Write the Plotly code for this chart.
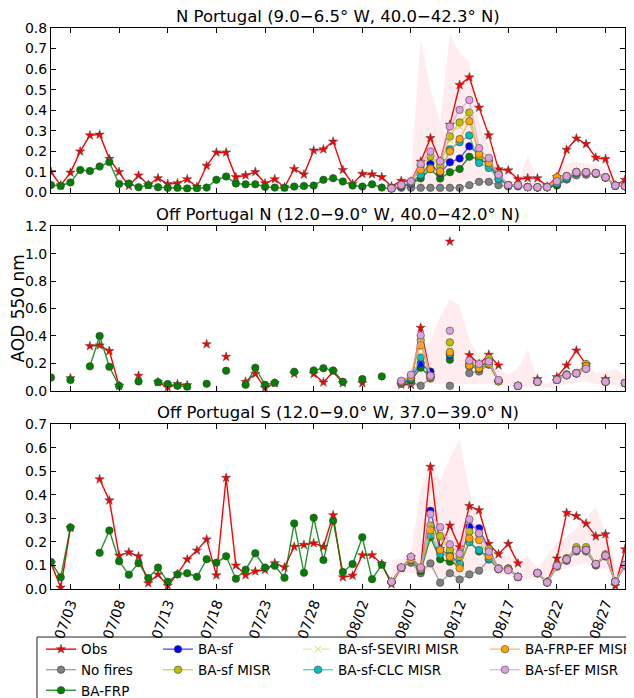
import pandas as pd
import plotly.graph_objects as go
from plotly.subplots import make_subplots

# daily axis, 07/01 .. 08/29
dates = pd.date_range("2010-07-01", "2010-08-29", freq="D")
fire_dates = dates[35:]  # fire-emission runs start 08/05

TITLES = [
    "N Portugal (9.0\u22126.5\u00b0 W, 40.0\u221242.3\u00b0 N)",
    "Off Portugal N (12.0\u22129.0\u00b0 W, 40.0\u221242.0\u00b0 N)",
    "Off Portugal S (12.0\u22129.0\u00b0 W, 37.0\u221239.0\u00b0 N)",
]

# ---------------- N Portugal ----------------
n_obs = [0.10, 0.035, 0.097, 0.20, 0.278, 0.282, 0.164, 0.10, 0.032, 0.083,
         0.037, 0.07, 0.042, 0.045, 0.065, 0.028, 0.13, 0.195, 0.195, 0.075,
         0.084, 0.10, 0.045, 0.065, 0.026, 0.115, 0.088, 0.205, 0.21, 0.248,
         0.11, 0.042, 0.091, 0.089, 0.075, 0.03, 0.057, 0.053, 0.15, 0.265,
         0.152, 0.33, 0.523, 0.56, 0.413, 0.278, 0.113, 0.108, 0.065, 0.07,
         0.07, 0.03, 0.075, 0.208, 0.263, 0.236, 0.17, 0.163, 0.035, 0.062]
n_frp = [0.037, 0.032, 0.049, 0.11, 0.105, 0.127, 0.148, 0.042, 0.044, 0.026,
         0.036, 0.026, 0.023, 0.023, 0.02, 0.021, 0.024, 0.062, 0.078, 0.044,
         0.04, 0.04, 0.028, 0.024, 0.023, 0.029, 0.032, 0.034, 0.062, 0.07,
         0.054, 0.034, 0.029, 0.04, 0.024, 0.019, 0.03, 0.042, 0.069, 0.115,
         0.068, 0.099, 0.115, 0.174, 0.163, 0.139, 0.066, 0.036, 0.036, 0.027,
         0.025, 0.026, 0.034, 0.068, 0.095, 0.097, 0.093, 0.074, 0.034, 0.031]
n_nofire = [0.023, 0.023, 0.023, 0.023, 0.023, 0.023, 0.023, 0.023, 0.036, 0.052, 0.052, 0.036, 0.03,
            0.03, 0.026, 0.025, 0.026, 0.039, 0.063, 0.084, 0.087, 0.09, 0.072, 0.033, 0.03]
n_sf = [0.02, 0.03, 0.045, 0.087, 0.14, 0.095, 0.147, 0.166, 0.225, 0.184, 0.152, 0.082, 0.036,
        0.036, 0.027, 0.025, 0.026, 0.05, 0.078, 0.1, 0.099, 0.095, 0.074, 0.034, 0.031]
n_sf_misr = [0.02, 0.035, 0.05, 0.13, 0.176, 0.131, 0.273, 0.341, 0.389, 0.176, 0.15, 0.092, 0.036,
             0.036, 0.027, 0.025, 0.026, 0.06, 0.08, 0.1, 0.099, 0.095, 0.074, 0.034, 0.031]
n_seviri = [0.02, 0.034, 0.05, 0.125, 0.165, 0.125, 0.255, 0.32, 0.37, 0.17, 0.145, 0.09, 0.036,
            0.036, 0.027, 0.025, 0.026, 0.058, 0.079, 0.1, 0.099, 0.095, 0.074, 0.034, 0.031]
n_clc = [0.02, 0.032, 0.047, 0.087, 0.12, 0.10, 0.21, 0.245, 0.278, 0.144, 0.12, 0.066, 0.034,
         0.034, 0.027, 0.025, 0.026, 0.045, 0.07, 0.095, 0.097, 0.093, 0.074, 0.034, 0.031]
n_frp_ef = [0.02, 0.035, 0.052, 0.11, 0.115, 0.103, 0.2, 0.26, 0.347, 0.187, 0.144, 0.092, 0.036,
            0.036, 0.027, 0.025, 0.026, 0.074, 0.08, 0.1, 0.099, 0.095, 0.074, 0.034, 0.031]
n_sf_ef = [0.02, 0.037, 0.055, 0.139, 0.2, 0.152, 0.321, 0.402, 0.45, 0.216, 0.168, 0.087, 0.036,
           0.036, 0.026, 0.026, 0.026, 0.055, 0.079, 0.099, 0.099, 0.095, 0.074, 0.034, 0.031]
n_band_hi = [0.03, 0.06, 0.08, 0.75, 0.5, 0.35, 0.77, 0.68, 0.63, 0.35, 0.22, 0.13, 0.06,
             0.05, 0.18, 0.06, 0.04, 0.11, 0.14, 0.15, 0.14, 0.14, 0.11, 0.05, 0.05]
n_band_lo = [0.015, 0.02, 0.025, 0.03, 0.04, 0.03, 0.04, 0.05, 0.06, 0.05, 0.04, 0.03, 0.02,
             0.02, 0.02, 0.02, 0.02, 0.03, 0.05, 0.06, 0.07, 0.07, 0.05, 0.02, 0.02]

# ---------------- Off Portugal N ----------------
o_obs = [None, None, 0.092, None, 0.326, 0.331, 0.29, 0.036, None, 0.11,
         None, 0.063, 0.024, 0.049, 0.041, None, 0.34, None, 0.248, None,
         0.066, 0.124, 0.02, 0.055, None, 0.124, None, 0.124, 0.061, 0.14,
         0.056, None, 0.056, None, None, None, 0.045, 0.044, 0.46, 0.11,
         None, 1.088, None, 0.26, 0.195, 0.263, 0.185, None, None, None,
         0.085, None, 0.10, 0.185, 0.294, 0.19, None, 0.085, None, None]
o_frp = [0.097, None, 0.078, None, 0.178, 0.40, 0.175, 0.036, None, 0.068,
         None, 0.063, 0.049, 0.036, 0.029, None, 0.051, None, 0.146, None,
         0.044, 0.168, 0.044, 0.058, None, 0.139, None, 0.148, 0.165, 0.148,
         0.066, None, 0.085, None, 0.105, None, 0.06, 0.075, 0.168, 0.10,
         None, 0.226, None, 0.18, 0.16, 0.2, 0.07, None, 0.036, None,
         0.066, None, 0.08, 0.114, 0.127, 0.18, None, 0.066, None, 0.056]
o_nofire = [None, 0.051, 0.061, 0.037, 0.09, None, 0.036, None, 0.129, 0.141, 0.19, 0.075, None,
            0.036, None, 0.066, None, 0.08, 0.114, 0.127, 0.16, None, 0.066, None, 0.056]
o_sf = [None, 0.065, 0.09, 0.2, 0.14, None, 0.26, None, 0.19, 0.17, 0.22, 0.07, None,
        0.036, None, 0.066, None, 0.08, 0.114, 0.127, 0.19, None, 0.066, None, 0.056]
o_sf_misr = [None, 0.068, 0.11, 0.37, 0.1, None, 0.353, None, 0.2, 0.18, 0.238, 0.07, None,
             0.036, None, 0.066, None, 0.08, 0.12, 0.13, 0.195, None, 0.066, None, 0.056]
o_seviri = [None, 0.066, 0.105, 0.36, 0.1, None, 0.33, None, 0.195, 0.175, 0.23, 0.07, None,
            0.036, None, 0.066, None, 0.08, 0.118, 0.128, 0.19, None, 0.066, None, 0.056]
o_clc = [None, 0.062, 0.09, 0.243, 0.1, None, 0.27, None, 0.18, 0.165, 0.2, 0.07, None,
         0.036, None, 0.066, None, 0.08, 0.114, 0.127, 0.18, None, 0.066, None, 0.056]
o_frp_ef = [None, 0.066, 0.1, 0.331, 0.1, None, 0.282, None, 0.185, 0.165, 0.197, 0.068, None,
            0.036, None, 0.066, None, 0.08, 0.114, 0.127, 0.18, None, 0.066, None, 0.056]
o_sf_ef = [None, 0.073, 0.117, 0.404, 0.11, None, 0.438, None, 0.221, 0.195, 0.214, 0.078, None,
           0.036, None, 0.066, None, 0.08, 0.114, 0.127, 0.161, None, 0.066, None, 0.056]
o_band_hi = [0.03, 0.06, 0.12, 0.25, 0.37, 0.54, 0.67, 0.62, 0.37, 0.25, 0.2, 0.15, 0.12,
             0.16, 0.30, 0.08, 0.05, 0.10, 0.14, 0.16, 0.2, 0.13, 0.14, 0.16, 0.11]
o_band_lo = [0.01, 0.02, 0.03, 0.04, 0.05, 0.05, 0.05, 0.05, 0.05, 0.05, 0.05, 0.04, 0.03,
             0.02, 0.03, 0.03, 0.02, 0.03, 0.05, 0.06, 0.07, 0.05, 0.04, 0.04, 0.03]

# ---------------- Off Portugal S ----------------
s_obs = [0.109, 0.006, 0.26, None, None, 0.467, 0.377, 0.142, 0.156, 0.139,
         0.025, 0.062, 0.014, 0.064, 0.126, 0.164, 0.211, 0.058, 0.473, 0.1,
         0.059, 0.075, 0.081, 0.11, 0.092, 0.18, 0.188, 0.195, 0.18, 0.314,
         0.05, 0.057, 0.144, 0.144, 0.106, 0.021, 0.09, 0.135, 0.09, 0.52,
         0.17, 0.27, 0.178, 0.353, 0.335, 0.192, 0.148, 0.192, 0.109, None,
         None, 0.03, 0.13, 0.324, 0.31, 0.278, 0.224, 0.233, 0.013, 0.169]
s_frp = [0.115, 0.05, 0.262, None, None, 0.154, 0.249, 0.118, 0.061, 0.11,
         0.047, 0.091, 0.031, 0.062, 0.067, 0.052, 0.127, 0.112, 0.139, 0.044,
         0.082, 0.152, 0.091, 0.099, 0.048, 0.279, 0.069, 0.303, 0.123, 0.29,
         0.072, 0.106, 0.22, 0.042, 0.103, 0.03, 0.09, 0.125, 0.075, 0.22,
         0.127, 0.116, 0.1, 0.2, 0.16, 0.14, 0.085, 0.085, 0.052, None,
         0.068, 0.028, 0.099, 0.126, 0.166, 0.166, 0.106, 0.142, 0.031, 0.102]
s_nofire = [0.03, 0.09, 0.112, 0.067, 0.109, 0.027, 0.067, 0.04, 0.062, 0.078, 0.125, 0.087, 0.085,
            0.05, None, 0.066, 0.028, 0.095, 0.12, 0.16, 0.16, 0.1, 0.138, 0.03, 0.1]
s_sf = [0.03, 0.09, 0.125, 0.085, 0.333, 0.166, 0.145, 0.109, 0.265, 0.258, 0.17, 0.086, 0.085,
        0.052, None, 0.068, 0.028, 0.1, 0.125, 0.166, 0.166, 0.106, 0.142, 0.031, 0.102]
s_sf_misr = [0.03, 0.09, 0.125, 0.085, 0.27, 0.225, 0.166, 0.137, 0.244, 0.234, 0.17, 0.088, 0.088,
             0.052, None, 0.068, 0.028, 0.1, 0.132, 0.178, 0.178, 0.106, 0.148, 0.031, 0.102]
s_seviri = [0.03, 0.09, 0.124, 0.085, 0.26, 0.21, 0.16, 0.13, 0.235, 0.225, 0.165, 0.087, 0.087,
            0.052, None, 0.068, 0.028, 0.1, 0.13, 0.174, 0.174, 0.106, 0.146, 0.031, 0.102]
s_clc = [0.03, 0.09, 0.123, 0.085, 0.23, 0.15, 0.14, 0.105, 0.2, 0.166, 0.13, 0.085, 0.085,
         0.052, None, 0.068, 0.028, 0.099, 0.126, 0.166, 0.166, 0.106, 0.142, 0.031, 0.102]
s_frp_ef = [0.03, 0.09, 0.125, 0.085, 0.25, 0.166, 0.137, 0.088, 0.215, 0.208, 0.14, 0.085, 0.085,
            0.052, None, 0.068, 0.028, 0.1, 0.126, 0.166, 0.166, 0.106, 0.142, 0.031, 0.102]
s_sf_ef = [0.031, 0.092, 0.137, 0.092, 0.319, 0.263, 0.19, 0.15, 0.296, 0.237, 0.159, 0.086, 0.08,
           0.052, None, 0.068, 0.028, 0.099, 0.126, 0.166, 0.166, 0.106, 0.142, 0.031, 0.102]
s_band_hi = [0.12, 0.13, 0.15, 0.42, 0.54, 0.46, 0.56, 0.636, 0.42, 0.265, 0.19, 0.15, 0.14,
             0.12, 0.14, 0.09, 0.14, 0.2, 0.22, 0.26, 0.3, 0.35, 0.24, 0.11, 0.08]
s_band_lo = [0.05, 0.06, 0.07, 0.06, 0.08, 0.05, 0.06, 0.05, 0.06, 0.07, 0.08, 0.06, 0.06,
             0.04, 0.04, 0.05, 0.03, 0.07, 0.09, 0.1, 0.11, 0.08, 0.09, 0.03, 0.07]

panels = [
    dict(obs=n_obs, frp=n_frp, nofire=n_nofire, sf=n_sf, sf_misr=n_sf_misr, seviri=n_seviri,
         clc=n_clc, frp_ef=n_frp_ef, sf_ef=n_sf_ef, hi=n_band_hi, lo=n_band_lo),
    dict(obs=o_obs, frp=o_frp, nofire=o_nofire, sf=o_sf, sf_misr=o_sf_misr, seviri=o_seviri,
         clc=o_clc, frp_ef=o_frp_ef, sf_ef=o_sf_ef, hi=o_band_hi, lo=o_band_lo),
    dict(obs=s_obs, frp=s_frp, nofire=s_nofire, sf=s_sf, sf_misr=s_sf_misr, seviri=s_seviri,
         clc=s_clc, frp_ef=s_frp_ef, sf_ef=s_sf_ef, hi=s_band_hi, lo=s_band_lo),
]

# key, label, marker colour, line colour, symbol, dash, legend column
SERIES = [
    ("obs", "Obs", "#ff0000", "#ff0000", "star", "solid", "legend"),
    ("nofire", "No fires", "#808080", "rgba(128,128,128,0.7)", "circle", "solid", "legend"),
    ("frp", "BA-FRP", "#008000", "rgba(0,128,0,0.85)", "circle", "solid", "legend"),
    ("sf", "BA-sf", "#0000ff", "rgba(0,0,255,0.65)", "circle", "solid", "legend2"),
    ("sf_misr", "BA-sf MISR", "#bfbf00", "rgba(191,191,0,0.65)", "circle", "solid", "legend2"),
    ("seviri", "BA-sf-SEVIRI MISR", "rgba(191,191,0,0.45)", "rgba(191,191,0,0.35)", "x-thin-open", "dash", "legend3"),
    ("clc", "BA-sf-CLC MISR", "#00bfbf", "rgba(0,191,191,0.65)", "circle", "solid", "legend3"),
    ("frp_ef", "BA-FRP-EF MISR", "#ffa500", "rgba(255,165,0,0.65)", "circle", "solid", "legend4"),
    ("sf_ef", "BA-sf-EF MISR", "#dda0dd", "rgba(221,160,221,0.75)", "circle", "solid", "legend4"),
]

FONT = "DejaVu Sans"

fig = make_subplots(rows=3, cols=1, shared_xaxes=True, vertical_spacing=0.06,
                    subplot_titles=TITLES)

for r, p in enumerate(panels, start=1):
    fig.add_trace(go.Scatter(x=fire_dates, y=p["lo"], mode="lines", line=dict(width=0),
                             showlegend=False, hoverinfo="skip"), row=r, col=1)
    fig.add_trace(go.Scatter(x=fire_dates, y=p["hi"], mode="lines", line=dict(width=0),
                             fill="tonexty", fillcolor="rgba(255,192,203,0.3)",
                             showlegend=False, hoverinfo="skip"), row=r, col=1)
    for key, label, mcol, lcol, sym, dash, leg in SERIES:
        xs = dates if key in ("obs", "frp") else fire_dates
        if sym == "star":
            marker = dict(symbol="star", size=7, color=mcol, line=dict(color="#444", width=0.5))
        elif sym == "x-thin-open":
            marker = dict(symbol=sym, size=6, color=mcol, line=dict(color=mcol, width=1.2))
        else:
            marker = dict(symbol="circle", size=7.5, color=mcol, line=dict(color="#444", width=0.6))
        fig.add_trace(go.Scatter(
            x=xs, y=p[key], name=label, mode="lines+markers",
            line=dict(color=lcol, width=1.4, dash=dash), marker=marker,
            showlegend=(r == 1), legend=leg,
        ), row=r, col=1)

axis_common = dict(showline=True, linecolor="black", linewidth=1, mirror="ticks",
                   ticks="inside", ticklen=5, tickcolor="black", showgrid=False,
                   zeroline=False, tickfont=dict(family=FONT, size=14, color="black"))

fig.update_xaxes(range=["2010-07-01", "2010-08-29"], tick0="2010-07-03",
                 dtick=5 * 86400000, tickformat="%m/%d", tickangle=-70, **axis_common)
fig.update_yaxes(tickformat=".1f", **axis_common)
fig.update_yaxes(range=[0, 0.8], dtick=0.1, row=1, col=1)
fig.update_yaxes(range=[0, 1.2], dtick=0.2, row=2, col=1)
fig.update_yaxes(range=[0, 0.7], dtick=0.1, row=3, col=1)

for ann in fig.layout.annotations:
    ann.font = dict(family=FONT, size=16.5, color="black")
    ann.yshift = 0

fig.add_annotation(text="AOD 550 nm", xref="paper", yref="paper", x=-0.0575, y=0.5,
                   xanchor="center", yanchor="middle", textangle=-90, showarrow=False,
                   font=dict(family=FONT, size=17, color="black"))

legend_style = dict(yanchor="top", y=-0.08, xanchor="left", bgcolor="rgba(0,0,0,0)",
                    font=dict(family=FONT, size=13.5, color="black"),
                    tracegroupgap=0, itemwidth=30, traceorder="normal")
fig.update_layout(
    legend=dict(x=-0.0174, **legend_style),
    legend2=dict(x=0.1864, **legend_style),
    legend3=dict(x=0.4303, **legend_style),
    legend4=dict(x=0.7561, **legend_style),
)

# legend frame (runs past the right edge, as in the original)
fig.add_shape(type="rect", xref="paper", yref="paper", x0=-0.0244, x1=1.2,
              y0=-0.0856, y1=-0.4, line=dict(color="#222", width=1), fillcolor="rgba(0,0,0,0)")

# the page body adds an 8px offset, so margins are set 8px smaller at top/left
fig.update_layout(
    width=634, height=698,
    margin=dict(l=43, r=17, t=20, b=117, autoexpand=False),
    plot_bgcolor="white", paper_bgcolor="white",
    font=dict(family=FONT, color="black"),
)

fig.write_html("out.html")
